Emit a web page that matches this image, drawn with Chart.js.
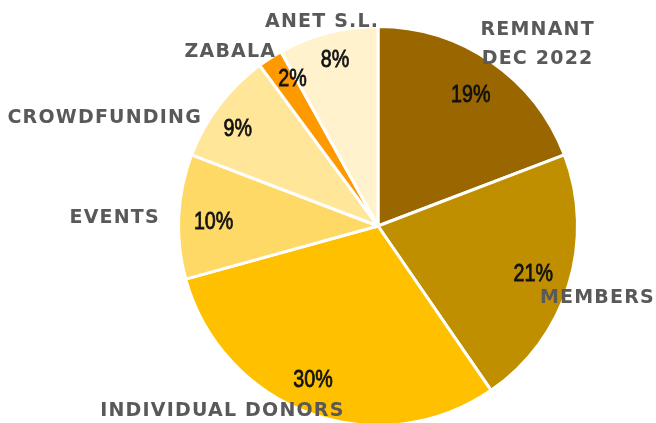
<!DOCTYPE html>
<html>
<head>
<meta charset="utf-8">
<script src="https://cdn.jsdelivr.net/npm/chart.js@4.4.1/dist/chart.umd.min.js"></script>
<style>
  html, body { margin: 0; padding: 0; background: #ffffff; overflow: hidden; }
  #wrap { width: 656px; height: 427px; position: relative; }
</style>
</head>
<body>
<div id="wrap"><canvas id="c"></canvas></div>
<script>
const categories = ["REMNANT\nDEC 2022", "MEMBERS", "INDIVIDUAL DONORS", "EVENTS", "CROWDFUNDING", "ZABALA", "ANET S.L."];
const values = [19, 21, 30, 10, 9, 2, 8];
const percentLabels = ["19%", "21%", "30%", "10%", "9%", "2%", "8%"];
const colors = ["#996600", "#BF8F00", "#FFC000", "#FFD966", "#FFE699", "#FF9900", "#FFF2CC"];
// category label offsets relative to pie centre (in units of radius)
const labelOffsets = [[0.80, -0.91], [1.10, 0.36], [-0.78, 0.93], [-1.32, -0.04], [-1.37, -0.54], [-0.74, -0.87], [-0.28, -1.02]];
// small pixel nudges for percentage labels
const pctNudges = [[0, 3], [-1, -1], [-9, 0], [-1, 3], [-10, 1], [3, -10], [-2, -8]];

const labelPlugin = {
  id: 'labels',
  afterDatasetsDraw(chart) {
    const ctx = chart.ctx;
    const meta = chart.getDatasetMeta(0);
    ctx.save();
    meta.data.forEach((arc, i) => {
      const p = arc.getProps(['x', 'y', 'startAngle', 'endAngle', 'outerRadius'], true);
      const mid = (p.startAngle + p.endAngle) / 2;
      const r = p.outerRadius * 0.82;
      const x = p.x + Math.cos(mid) * r + pctNudges[i][0];
      const y = p.y + Math.sin(mid) * r + pctNudges[i][1];
      ctx.save();
      ctx.translate(x, y);
      ctx.scale(0.82, 1);
      ctx.font = '24px "Liberation Sans", Arial, sans-serif';
      ctx.fillStyle = '#111111';
      ctx.strokeStyle = '#111111';
      ctx.lineWidth = 0.8;
      ctx.textAlign = 'center';
      ctx.textBaseline = 'middle';
      ctx.fillText(percentLabels[i], 0, 1);
      ctx.strokeText(percentLabels[i], 0, 1);
      ctx.restore();
      // category label
      const lx = p.x + labelOffsets[i][0] * p.outerRadius;
      const ly = p.y + labelOffsets[i][1] * p.outerRadius;
      ctx.font = 'bold 19px "DejaVu Sans", sans-serif';
      ctx.letterSpacing = '1.2px';
      ctx.fillStyle = '#595959';
      ctx.textAlign = 'center';
      ctx.textBaseline = 'middle';
      const lines = categories[i].split('\n');
      lines.forEach((ln, k) => {
        ctx.fillText(ln, lx, ly + (k - (lines.length - 1) / 2) * 29);
      });
      ctx.letterSpacing = '0px';
    });
    ctx.restore();
  }
};

new Chart(document.getElementById('c'), {
  type: 'pie',
  data: {
    labels: categories,
    datasets: [{
      data: values,
      backgroundColor: colors,
      borderColor: '#ffffff',
      borderWidth: 3
    }]
  },
  options: {
    responsive: true,
    maintainAspectRatio: false,
    animation: false,
    layout: { padding: { left: 177, right: 77, top: 25, bottom: 0 } },
    plugins: { legend: { display: false }, tooltip: { enabled: false } }
  },
  plugins: [labelPlugin]
});
</script>
</body>
</html>
